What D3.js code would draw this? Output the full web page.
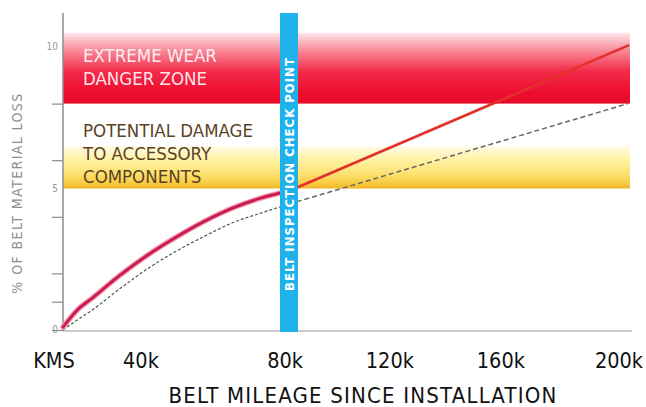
<!doctype html>
<html>
  <head>
    <title>Belt material loss vs mileage</title>
    <script src="https://d3js.org/d3.v7.min.js"></script>
    <style>
      body { margin: 0; background: #fff; }
      text { font-family: "DejaVu Sans Condensed", "DejaVu Sans", sans-serif; }
    </style>
  </head>
  <body>
    <div id="chart"></div>
    <script>
      // mileage in thousands of km, loss in %
      const curveKm = [0, 5, 10, 20, 30, 40, 50, 60, 70, 80];
      const redCurve = [0.1, 0.7, 1.1, 1.92, 2.65, 3.28, 3.84, 4.31, 4.66, 4.91];
      const dashCurve = [0, 0.35, 0.68, 1.45, 2.17, 2.78, 3.31, 3.79, 4.13, 4.45];
      const afterKm = [80, 200];
      const redAfter = [4.91, 10.05];
      const dashAfter = [4.45, 8.0];

      const checkPointKm = 80;
      const dangerZone = [8, 10.5];
      const damageZone = [5, 6.5];

      const yTicks = [0, 1, 2, 4, 6, 8];
      const yLabels = [0, 5, 10];
      const xLabels = ['KMS', '40k', '80k', '120k', '160k', '200k'];
      // where the labels sit along the mileage axis
      const xLabelKm = [-3.2, 27.6, 78.6, 115.7, 155, 196.8];

      const W = 646, H = 407;
      const x = d3.scaleLinear().domain([0, 200]).range([63, 628]);
      const y = d3.scaleLinear().domain([0, 10]).range([330, 47]);

      const svg = d3.select('#chart').append('svg')
        .attr('width', W)
        .attr('height', H);

      const defs = svg.append('defs');
      const redGrad = defs.append('linearGradient')
        .attr('id', 'red-grad').attr('x1', 0).attr('y1', 0).attr('x2', 0).attr('y2', 1);
      redGrad.selectAll('stop')
        .data([[0, '#fde6e9'], [0.25, '#f88a98'], [0.55, '#f22a48'], [0.85, '#ee0d2f'], [1, '#e80a2b']])
        .join('stop')
        .attr('offset', d => d[0])
        .attr('stop-color', d => d[1]);

      const yelGrad = defs.append('linearGradient')
        .attr('id', 'yel-grad').attr('x1', 0).attr('y1', 0).attr('x2', 0).attr('y2', 1);
      yelGrad.selectAll('stop')
        .data([[0, '#fffbe8'], [0.3, '#fff3a8'], [0.65, '#fde272'], [0.9, '#f8c83c'], [1, '#f2b42a']])
        .join('stop')
        .attr('offset', d => d[0])
        .attr('stop-color', d => d[1]);

      // zones
      svg.append('rect')
        .attr('x', x(0))
        .attr('y', y(dangerZone[1]))
        .attr('width', x(200) - x(0) + 2)
        .attr('height', y(dangerZone[0]) - y(dangerZone[1]))
        .attr('fill', 'url(#red-grad)');

      svg.append('rect')
        .attr('x', x(0))
        .attr('y', y(damageZone[1]))
        .attr('width', x(200) - x(0) + 2)
        .attr('height', y(damageZone[0]) - y(damageZone[1]))
        .attr('fill', 'url(#yel-grad)');

      // zone texts
      svg.append('g')
        .selectAll('text')
        .data(['EXTREME WEAR', 'DANGER ZONE'])
        .join('text')
        .attr('x', 83)
        .attr('y', (d, i) => 62 + i * 23)
        .attr('fill', '#fff')
        .attr('fill-opacity', 0.9)
        .style('font-size', '18.5px')
        .text(d => d);

      svg.append('g')
        .selectAll('text')
        .data(['POTENTIAL DAMAGE', 'TO ACCESSORY', 'COMPONENTS'])
        .join('text')
        .attr('x', 83)
        .attr('y', (d, i) => 137 + i * 23)
        .attr('fill', '#5b4322')
        .style('font-size', '18.5px')
        .text(d => d);

      // axes
      svg.append('line')
        .attr('x1', x(0)).attr('x2', x(200) + 4)
        .attr('y1', y(0) + 1).attr('y2', y(0) + 1)
        .attr('stroke', '#b8b8b8')
        .attr('stroke-width', 1.5);

      const yAxis = svg.append('g')
        .attr('transform', `translate(${x(0)},0)`)
        .call(d3.axisLeft(y).tickValues(yTicks).tickSize(11).tickFormat(''));
      yAxis.select('.domain').remove();
      yAxis.selectAll('.tick line').attr('stroke', '#8c8c8c').attr('stroke-width', 1.2);

      svg.append('line')
        .attr('x1', x(0)).attr('x2', x(0))
        .attr('y1', y(11.2)).attr('y2', y(0) + 1)
        .attr('stroke', '#8c8c8c')
        .attr('stroke-width', 1.5);

      svg.append('g')
        .selectAll('text')
        .data(yLabels)
        .join('text')
        .attr('x', x(0) - 5)
        .attr('y', d => y(d) + 3)
        .attr('text-anchor', 'end')
        .attr('fill', '#999')
        .style('font-size', '10px')
        .text(d => d);

      svg.append('text')
        .attr('transform', 'translate(22,193) rotate(-90)')
        .attr('text-anchor', 'middle')
        .attr('fill', '#8f8f8f')
        .style('font-size', '14px')
        .style('letter-spacing', '1.4px')
        .text('% OF BELT MATERIAL LOSS');

      // lines
      const line = d3.line()
        .x(d => x(d[0]))
        .y(d => y(d[1]))
        .curve(d3.curveMonotoneX);

      svg.append('path')
        .datum(curveKm.map((k, i) => [k, dashCurve[i]]))
        .attr('d', line)
        .attr('fill', 'none')
        .attr('stroke', '#4e5a4e')
        .attr('stroke-width', 1.2)
        .attr('stroke-dasharray', '3,2');

      svg.append('path')
        .datum(afterKm.map((k, i) => [k, dashAfter[i]]))
        .attr('d', line)
        .attr('fill', 'none')
        .attr('stroke', '#666')
        .attr('stroke-width', 1.5)
        .attr('stroke-dasharray', '5,3');

      svg.append('path')
        .datum(curveKm.map((k, i) => [k, redCurve[i]]))
        .attr('d', line)
        .attr('fill', 'none')
        .attr('stroke', '#f4a0b8')
        .attr('stroke-width', 5.5)
        .attr('stroke-linecap', 'round');

      svg.append('path')
        .datum(curveKm.map((k, i) => [k, redCurve[i]]))
        .attr('d', line)
        .attr('fill', 'none')
        .attr('stroke', '#c81d4d')
        .attr('stroke-width', 3)
        .attr('stroke-linecap', 'round');

      svg.append('path')
        .datum(afterKm.map((k, i) => [k, redAfter[i]]))
        .attr('d', line)
        .attr('fill', 'none')
        .attr('stroke', '#e2302a')
        .attr('stroke-width', 2.6)
        .attr('stroke-linecap', 'round');

      // inspection check point bar
      svg.append('rect')
        .attr('x', x(checkPointKm) - 9)
        .attr('y', y(11.2))
        .attr('width', 18)
        .attr('height', y(0) + 2 - y(11.2))
        .attr('fill', '#1fb2ea');

      svg.append('text')
        .attr('transform', `translate(${x(checkPointKm) + 4.5},174) rotate(-90)`)
        .attr('text-anchor', 'middle')
        .attr('fill', '#fff')
        .style('font-size', '13px')
        .style('font-weight', 'bold')
        .style('letter-spacing', '1px')
        .text('BELT INSPECTION CHECK POINT');

      // mileage labels
      svg.append('g')
        .selectAll('text')
        .data(xLabels)
        .join('text')
        .attr('x', (d, i) => x(xLabelKm[i]))
        .attr('y', 368)
        .attr('text-anchor', 'middle')
        .attr('fill', '#111')
        .style('font-size', '21.5px')
        .text(d => d);

      svg.append('text')
        .attr('x', 363)
        .attr('y', 403)
        .attr('text-anchor', 'middle')
        .attr('fill', '#111')
        .style('font-size', '22px')
        .style('letter-spacing', '1.2px')
        .text('BELT MILEAGE SINCE INSTALLATION');
    </script>
  </body>
</html>
